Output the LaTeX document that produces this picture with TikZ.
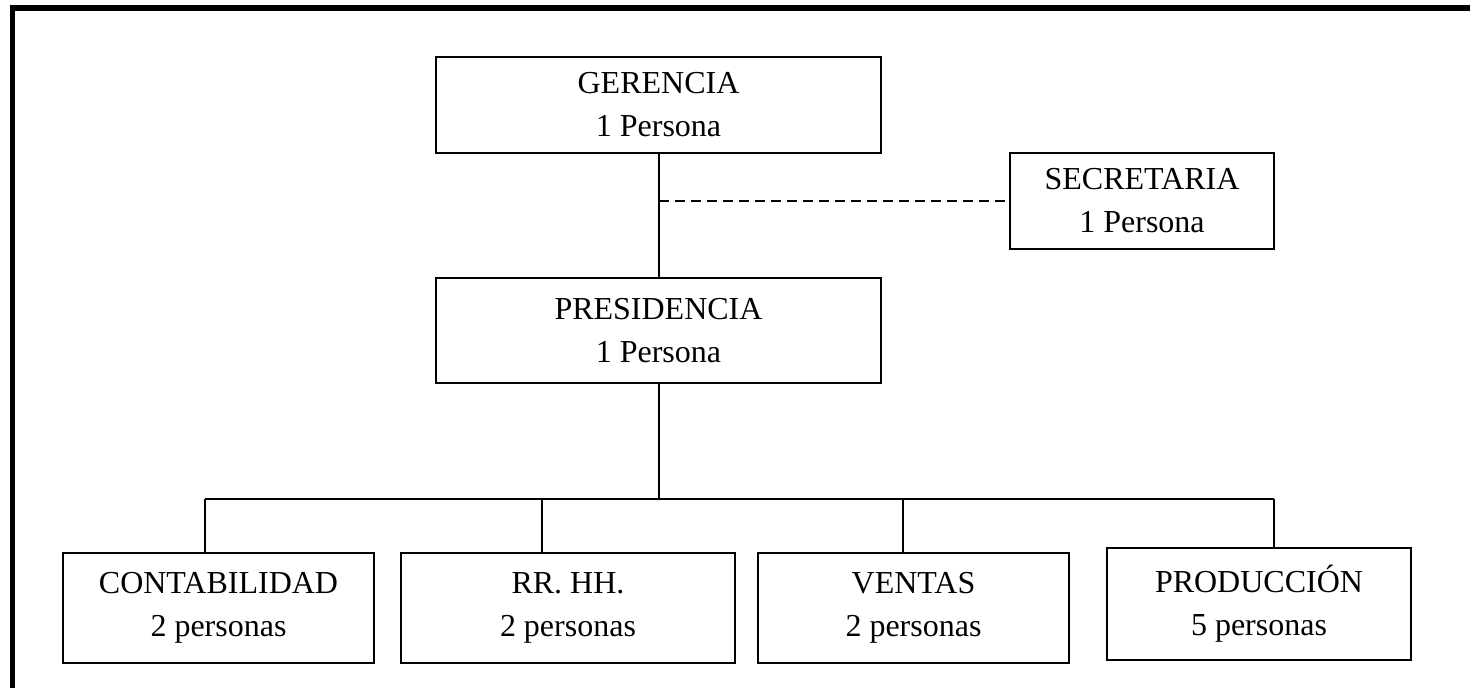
\documentclass[tikz,border=0pt]{standalone}
\usepackage{fontspec}
\setmainfont{Liberation Serif}
\usepackage{tikz}
\usetikzlibrary{positioning}

\tikzset{
  cargo/.style={draw, line width=1pt, rectangle, align=center, inner sep=0pt,
    font=\fontsize{16}{21.5}\selectfont},
  linea/.style={line width=1pt}
}

\begin{document}
\begin{tikzpicture}[x=0.5pt,y=-0.5pt]
            \useasboundingbox (0,0) rectangle (1470,688);
            \draw[line width=2.75pt] (12.5,688) -- (12.5,8) -- (1470,8);

            \node[cargo, minimum width=222.5pt, minimum height=48pt] (ger) at (658.5,105) {GERENCIA\\1 Persona};
            \node[cargo, minimum width=132pt, minimum height=48pt] (sec) at (1142,201) {SECRETARIA\\1 Persona};
            \node[cargo, minimum width=222.5pt, minimum height=52.5pt] (pres) at (658.5,331) {PRESIDENCIA\\1 Persona};
            \node[cargo, minimum width=155.5pt, minimum height=55pt] (cont) at (218.5,608) {CONTABILIDAD\\2 personas};
            \node[cargo, minimum width=167pt, minimum height=55pt] (rrhh) at (568,608) {RR. HH.\\2 personas};
            \node[cargo, minimum width=155.5pt, minimum height=55pt] (vent) at (913.5,608) {VENTAS\\2 personas};
            \node[cargo, minimum width=152pt, minimum height=56pt] (prod) at (1259,604) {PRODUCCIÓN\\5 personas};

            \coordinate (d) at (ger.south |- sec.west);
            \coordinate (b1) at (205,499);
            \coordinate (b2) at (542,499);
            \coordinate (b3) at (903,499);
            \coordinate (b4) at (1274,499);

            \draw[linea] (ger) -- (pres);
            \draw[linea, dash pattern=on 5pt off 3pt] (d) -- (sec);
            \draw[linea] (pres.south) -- (pres.south |- b1);
            \draw[linea] (b1) -- (b4);

            \draw[linea] (b1) -- (b1 |- cont.north);
            \draw[linea] (b2) -- (b2 |- rrhh.north);
            \draw[linea] (b3) -- (b3 |- vent.north);
            \draw[linea] (b4) -- (b4 |- prod.north);
\end{tikzpicture}
\end{document}
